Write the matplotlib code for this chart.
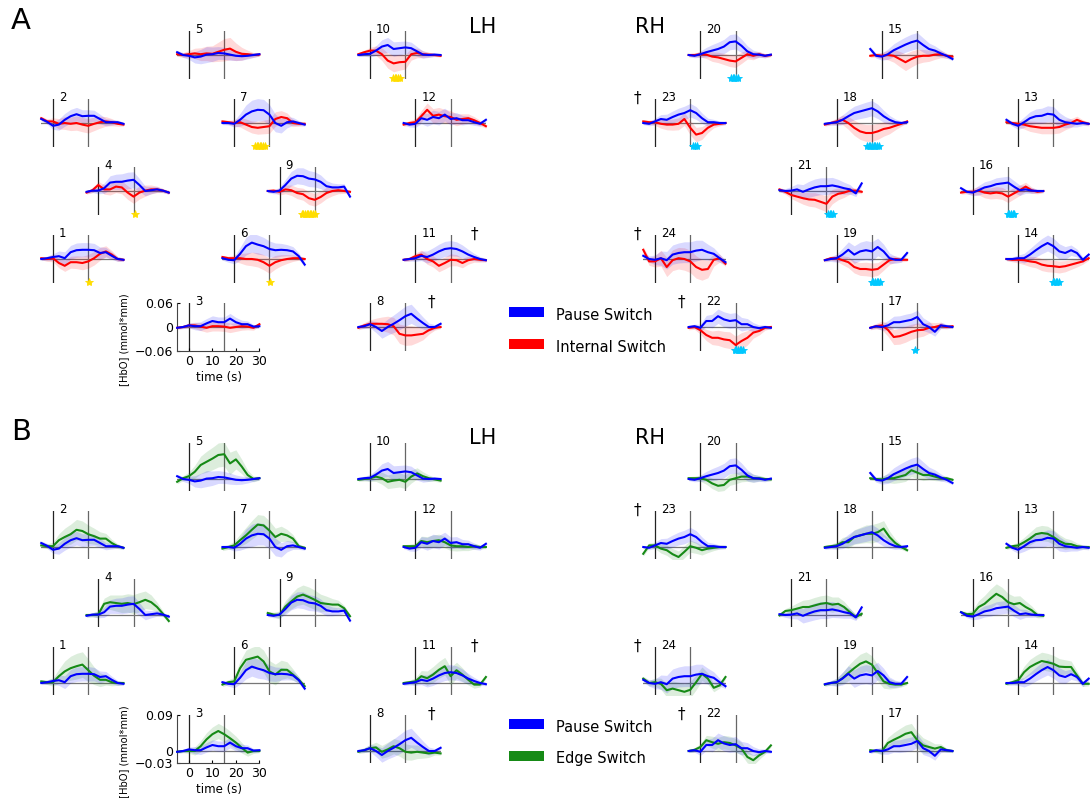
import matplotlib
matplotlib.use('Agg')
import matplotlib.pyplot as plt
from matplotlib.patches import Rectangle
import numpy as np

# sample times (s) and HbO traces in umol*mm (= 1e-3 mmol*mm)
time_s = [-5, -2.5, 0, 2.5, 5, 7.5, 10, 12.5, 15, 17.5, 20, 22.5, 25, 27.5, 30]

pause = {
    5: [7, 0, -2, -6, -4, 1, 2, 5, 4, 1, -2, -3, -2, 0, 2],
    10: [0, 2, 3, 11, 21, 25, 15, 17, 19, 17, 9, 1, 0, 1, 0],
    2: [10, 3, -7, -4, 8, 17, 22, 17, 18, 18, 10, 2, 2, 2, -2],
    7: [0, 0, -2, 8, 21, 29, 33, 32, 21, 0, -7, 2, 4, 0, -4],
    12: [0, -4, -2, 12, 8, 15, 12, 21, 10, 12, 7, 7, 2, -2, 8],
    4: [-2, 1, 1, 7, 21, 23, 23, 26, 28, 15, 0, 2, 4, 1, -4],
    9: [0, -2, 1, 15, 31, 38, 37, 31, 29, 23, 12, 9, 9, 11, -14],
    1: [0, 2, 5, 7, 2, 17, 22, 23, 23, 22, 15, 17, 8, 0, -2],
    6: [2, -2, -3, 13, 32, 41, 36, 32, 25, 22, 23, 22, 19, 7, -14],
    11: [-2, 0, 2, 8, 5, 11, 19, 25, 27, 25, 19, 11, 5, 0, -3],
    3: [-2, 0, 4, 2, 2, 9, 15, 12, 12, 21, 12, 7, 7, 1, 2],
    8: [0, 2, 7, 0, -10, 0, 8, 17, 27, 33, 21, 10, 0, 0, 8],
    20: [0, -2, 2, 7, 11, 15, 21, 32, 34, 23, 9, 2, 1, -2, 1],
    15: [15, -2, -4, 2, 12, 19, 26, 32, 36, 25, 15, 11, 4, -2, -10],
    23: [0, -2, 4, 10, 8, 15, 21, 25, 32, 25, 12, 2, 2, 0, 0],
    18: [-2, 0, 2, 8, 17, 25, 29, 33, 37, 29, 17, 8, 2, 0, 2],
    13: [8, -2, -7, 2, 12, 17, 18, 23, 21, 8, 2, 0, -2, 0, -2],
    21: [2, 0, 1, 4, -2, 4, 9, 12, 12, 14, 11, 7, 4, -6, 19],
    16: [7, -2, -4, 2, 9, 12, 17, 19, 21, 11, 2, 4, 1, 0, 0],
    24: [8, 0, -2, 2, -3, 11, 15, 17, 17, 21, 23, 17, 13, 2, -8],
    19: [-3, 0, 2, 11, 23, 11, 19, 22, 19, 30, 19, 2, -2, -2, 15],
    14: [0, 0, 2, 2, 11, 22, 32, 40, 32, 19, 15, 22, 15, -2, 11],
    22: [0, 2, -2, 15, 15, 27, 19, 15, 17, 7, 7, 0, -3, 0, -2],
    17: [-2, 2, 0, 4, 12, 12, 15, 18, 25, 7, 0, -12, 4, 2, 0],
}

internal = {
    5: [2, 0, 2, 4, 2, 4, 3, 8, 13, 16, 8, 3, 2, 0, 1],
    10: [2, 7, 11, 11, 2, -14, -21, -18, -17, 2, 5, 2, 1, 0, -2],
    2: [12, 4, 4, -2, 0, -2, 0, -4, -7, -2, 2, 4, 2, -2, -4],
    7: [4, 2, 0, 2, -4, -10, -12, -10, -8, 10, 15, 12, 0, -2, -2],
    12: [-4, 0, 2, 17, 33, 18, 21, 17, 15, 8, 10, 12, 7, 0, -8],
    4: [-4, 2, 15, 4, 4, 11, 9, -4, -14, -4, 1, 4, 4, 1, -4],
    9: [0, 1, -2, 4, 2, -5, -8, -18, -22, -15, -5, 0, 2, 0, -2],
    1: [2, 0, 2, -10, -17, -8, -8, -10, -6, 2, 13, 19, 11, 0, -2],
    6: [5, 2, 2, 2, 0, 0, -2, -8, -17, -8, -3, 0, 2, 2, 0],
    11: [-2, 0, 7, 11, 0, -6, -17, -10, -2, -3, -10, -3, 0, -2, -3],
    3: [-2, 0, 4, 4, 1, -2, 2, 2, 1, -2, 0, 2, 1, -2, 7],
    8: [-2, 4, 8, 8, 8, 7, 2, -17, -21, -21, -19, -17, -8, -2, 0],
    20: [0, 0, 2, 1, -4, -6, -10, -14, -16, -7, 2, -2, 2, -2, 0],
    15: [-2, 0, -2, 0, -2, -10, -18, -10, -4, -2, -2, 1, 2, -2, -4],
    23: [4, 2, 2, -2, -4, -4, -2, 10, -12, -29, -25, -12, -4, -2, 0],
    18: [-4, 0, 4, 8, 0, -12, -21, -25, -25, -21, -15, -12, -7, -2, 4],
    13: [2, 0, -2, -4, -8, -10, -12, -12, -12, -10, -4, 0, 8, 2, -2],
    21: [4, -2, -10, -14, -18, -21, -22, -27, -32, -14, -7, -4, 1, 1, -2],
    16: [-4, -2, -2, 1, -4, -6, -4, -6, -14, -6, 2, 11, 2, -2, 0],
    24: [23, -6, -6, 2, -20, -3, 2, 0, -6, -20, -27, -25, -2, 2, -12],
    19: [-3, 2, 2, -3, -8, -20, -25, -25, -27, -25, -14, -3, 0, -2, -2],
    14: [0, -2, -2, -3, -6, -8, -14, -17, -18, -20, -18, -14, -10, -6, 2],
    22: [-2, 0, -8, -20, -27, -27, -31, -33, -45, -35, -27, -14, -10, -2, 0],
    17: [-2, 2, 4, -7, -25, -23, -18, -12, -8, -7, -2, 0, 4, 0, 2],
}

edge = {
    5: [-7, 2, 7, 18, 35, 43, 51, 60, 62, 39, 49, 31, 10, 0, 2],
    10: [-2, 0, 2, 6, 2, -7, -4, -2, -7, 6, 14, 7, 2, -1, -4],
    2: [4, 2, 2, 17, 25, 32, 43, 40, 32, 27, 21, 21, 10, 2, -2],
    7: [-4, 0, 4, 17, 29, 43, 56, 54, 41, 25, 33, 29, 21, 2, -2],
    12: [2, 2, 2, 15, 12, 15, 17, 12, 4, 2, 2, 0, 2, 0, 0],
    4: [0, 0, 2, 28, 32, 30, 28, 30, 27, 32, 38, 32, 20, 3, -15],
    9: [5, 1, 0, 21, 34, 46, 51, 45, 38, 30, 28, 26, 26, 17, -3],
    1: [4, 2, 2, 17, 29, 37, 42, 46, 32, 18, 8, 8, 2, 0, 0],
    6: [-4, 2, 4, 37, 58, 62, 66, 54, 29, 21, 33, 33, 21, 8, -8],
    11: [0, 2, 4, 17, 12, 21, 33, 42, 17, 32, 21, 8, -4, -4, 15],
    3: [-2, 0, 0, 0, 12, 29, 42, 50, 42, 32, 21, 8, -4, 0, 0],
    8: [-2, 2, 7, 9, -2, 4, 12, 7, -2, -4, -2, -4, -6, -4, -6],
    20: [2, 2, 2, -2, -11, -17, -15, -2, 2, 6, 6, 2, 2, 0, -1],
    15: [2, 0, -1, 2, 2, 6, 10, 22, 16, 10, 10, 6, 2, 2, -2],
    23: [-17, 4, 4, -4, -8, -18, -25, -12, 2, -2, -8, -4, -2, 0, 0],
    18: [0, 2, 4, 12, 12, 25, 29, 33, 33, 37, 46, 25, 10, 0, -8],
    13: [-2, 2, 4, 12, 21, 32, 35, 33, 25, 15, 8, 7, 2, 0, 0],
    21: [-1, 10, 12, 16, 20, 20, 24, 28, 30, 26, 28, 20, 7, -5, 3],
    16: [7, 2, 3, 20, 28, 41, 53, 45, 32, 27, 30, 20, 12, 0, -2],
    24: [11, 0, 2, -2, -18, -14, -18, -22, -17, 2, 23, 11, -12, -6, 15],
    19: [-4, 0, 2, 12, 25, 37, 48, 54, 46, 25, 4, -2, -4, -4, 0],
    14: [-2, 2, 7, 27, 40, 48, 55, 52, 48, 41, 40, 40, 19, -2, -2],
    22: [0, 3, 10, 27, 22, 18, 22, 20, 14, 6, -15, -23, -11, -2, 14],
    17: [2, 0, 0, 20, 28, 35, 43, 47, 27, 14, 10, 6, 10, 2, 0],
}

pause_se = {
    5: [5, 6, 9, 14, 18, 20, 18, 16, 15, 14, 12, 10, 8, 6, 4],
    10: [4, 5, 8, 12, 17, 19, 18, 17, 16, 15, 12, 9, 6, 4, 3],
    2: [5, 6, 9, 14, 16, 17, 17, 16, 15, 14, 12, 9, 7, 5, 4],
    7: [4, 5, 8, 16, 24, 28, 28, 27, 25, 22, 18, 14, 10, 6, 4],
    12: [4, 6, 9, 14, 16, 17, 17, 16, 15, 14, 12, 10, 8, 6, 5],
    4: [4, 5, 8, 13, 17, 19, 20, 21, 20, 16, 12, 9, 7, 5, 4],
    9: [4, 5, 8, 14, 18, 20, 21, 20, 19, 17, 14, 11, 9, 7, 5],
    1: [4, 5, 8, 13, 16, 17, 18, 18, 18, 17, 15, 12, 9, 6, 4],
    6: [5, 6, 9, 16, 22, 24, 24, 22, 20, 18, 16, 14, 12, 8, 6],
    11: [4, 5, 8, 12, 15, 17, 18, 19, 19, 18, 16, 13, 9, 6, 4],
    3: [3, 4, 6, 9, 11, 12, 13, 13, 13, 13, 12, 10, 8, 5, 4],
    8: [4, 6, 9, 14, 18, 20, 22, 24, 25, 24, 20, 15, 10, 6, 4],
    20: [4, 5, 8, 12, 15, 17, 18, 19, 19, 17, 14, 10, 7, 5, 4],
    15: [6, 6, 9, 13, 16, 18, 19, 20, 20, 18, 15, 12, 9, 6, 4],
    23: [4, 5, 8, 11, 14, 15, 16, 17, 17, 16, 13, 10, 7, 5, 4],
    18: [4, 5, 8, 12, 15, 17, 18, 19, 19, 18, 15, 11, 8, 5, 4],
    13: [5, 6, 9, 13, 16, 18, 19, 20, 20, 18, 14, 10, 8, 6, 5],
    21: [4, 6, 10, 14, 18, 20, 21, 21, 21, 20, 18, 15, 12, 8, 6],
    16: [4, 5, 8, 12, 14, 15, 16, 16, 16, 15, 13, 10, 7, 5, 4],
    24: [6, 8, 12, 18, 22, 24, 25, 26, 26, 26, 24, 20, 15, 10, 6],
    19: [4, 6, 10, 16, 20, 22, 23, 24, 24, 22, 18, 13, 9, 6, 5],
    14: [4, 5, 8, 12, 15, 17, 19, 20, 20, 19, 16, 13, 10, 7, 5],
    22: [4, 5, 9, 14, 17, 18, 19, 19, 19, 17, 14, 11, 8, 5, 4],
    17: [4, 5, 8, 12, 15, 16, 17, 17, 17, 16, 14, 11, 8, 5, 4],
}

internal_se = {
    5: [5, 6, 9, 13, 16, 18, 20, 24, 28, 28, 22, 16, 10, 6, 4],
    10: [4, 5, 8, 12, 16, 19, 21, 20, 18, 15, 12, 9, 6, 4, 3],
    2: [5, 6, 9, 13, 16, 17, 18, 18, 18, 17, 15, 12, 9, 6, 4],
    7: [4, 5, 8, 12, 14, 15, 16, 17, 18, 18, 16, 13, 9, 6, 4],
    12: [4, 6, 9, 14, 17, 18, 18, 17, 16, 15, 13, 11, 9, 7, 5],
    4: [4, 6, 9, 12, 14, 15, 16, 17, 17, 16, 14, 11, 8, 5, 4],
    9: [4, 5, 8, 11, 13, 14, 15, 16, 16, 15, 14, 12, 9, 6, 4],
    1: [4, 6, 9, 12, 14, 15, 16, 17, 17, 17, 16, 14, 10, 6, 4],
    6: [4, 5, 8, 12, 15, 17, 18, 19, 19, 17, 14, 11, 8, 5, 4],
    11: [4, 5, 8, 11, 13, 14, 15, 15, 15, 14, 12, 10, 8, 6, 4],
    3: [3, 4, 6, 8, 10, 11, 12, 12, 12, 12, 11, 10, 8, 6, 4],
    8: [5, 7, 10, 14, 17, 20, 22, 24, 25, 24, 20, 15, 10, 6, 4],
    20: [4, 5, 7, 10, 12, 13, 14, 15, 15, 14, 12, 10, 7, 5, 4],
    15: [4, 5, 8, 12, 16, 19, 21, 20, 18, 16, 14, 12, 9, 6, 4],
    23: [4, 5, 8, 11, 13, 14, 15, 16, 18, 18, 16, 12, 8, 5, 4],
    18: [4, 5, 8, 12, 16, 19, 20, 21, 21, 20, 18, 15, 10, 6, 4],
    13: [4, 5, 8, 11, 13, 14, 15, 15, 15, 15, 13, 11, 9, 6, 4],
    21: [5, 6, 9, 12, 15, 17, 18, 19, 20, 18, 15, 12, 9, 6, 5],
    16: [4, 5, 8, 11, 13, 14, 15, 15, 15, 14, 13, 11, 8, 5, 4],
    24: [8, 10, 14, 20, 24, 26, 27, 28, 28, 28, 26, 22, 16, 10, 6],
    19: [4, 5, 8, 11, 14, 15, 16, 17, 17, 16, 14, 11, 8, 5, 4],
    14: [4, 5, 8, 11, 13, 14, 15, 15, 15, 15, 14, 12, 10, 7, 5],
    22: [5, 6, 10, 14, 17, 19, 20, 21, 22, 21, 18, 14, 10, 6, 4],
    17: [5, 7, 11, 16, 19, 20, 20, 19, 18, 16, 14, 11, 8, 5, 4],
}

edge_se = {
    5: [5, 6, 10, 16, 22, 26, 28, 30, 30, 28, 24, 18, 12, 7, 5],
    10: [4, 5, 8, 12, 15, 17, 18, 18, 17, 16, 14, 11, 8, 5, 4],
    2: [5, 6, 10, 16, 22, 25, 26, 25, 23, 20, 17, 13, 9, 6, 4],
    7: [5, 6, 10, 15, 20, 23, 25, 25, 24, 22, 19, 15, 10, 6, 4],
    12: [4, 5, 8, 12, 14, 15, 15, 14, 13, 12, 11, 9, 7, 5, 4],
    4: [4, 5, 9, 14, 18, 20, 22, 23, 24, 24, 22, 18, 12, 7, 5],
    9: [4, 6, 10, 15, 19, 22, 24, 25, 24, 22, 19, 15, 11, 7, 5],
    1: [4, 6, 10, 18, 26, 30, 32, 32, 28, 22, 17, 13, 9, 6, 4],
    6: [5, 6, 10, 18, 24, 27, 28, 28, 27, 26, 24, 20, 14, 8, 5],
    11: [4, 5, 9, 14, 18, 20, 21, 22, 22, 20, 17, 13, 9, 6, 4],
    3: [3, 4, 6, 10, 14, 17, 18, 19, 19, 18, 16, 13, 9, 6, 4],
    8: [4, 6, 9, 13, 16, 18, 19, 20, 20, 19, 17, 14, 10, 6, 4],
    20: [4, 5, 8, 11, 13, 14, 14, 14, 14, 13, 12, 10, 7, 5, 4],
    15: [4, 5, 8, 11, 13, 15, 16, 16, 15, 14, 12, 10, 7, 5, 4],
    23: [6, 6, 8, 11, 13, 14, 15, 15, 15, 14, 12, 10, 7, 5, 4],
    18: [4, 5, 8, 12, 15, 18, 20, 22, 23, 23, 20, 15, 10, 6, 4],
    13: [4, 5, 8, 12, 16, 18, 19, 19, 18, 16, 14, 11, 8, 5, 4],
    21: [4, 6, 10, 14, 17, 19, 20, 20, 20, 19, 17, 14, 10, 6, 5],
    16: [4, 6, 10, 16, 21, 24, 25, 24, 22, 20, 18, 15, 11, 7, 5],
    24: [6, 7, 10, 14, 17, 19, 20, 20, 20, 19, 17, 14, 10, 7, 5],
    19: [4, 5, 9, 14, 19, 22, 24, 24, 22, 20, 17, 13, 9, 6, 4],
    14: [4, 6, 10, 15, 19, 21, 22, 22, 21, 20, 18, 15, 11, 7, 5],
    22: [4, 5, 8, 12, 15, 16, 17, 17, 17, 16, 15, 13, 10, 6, 4],
    17: [4, 5, 9, 14, 18, 21, 22, 22, 21, 19, 16, 12, 8, 5, 4],
}

# significant windows (s) pause vs internal switch
sig_windows = {
    10: (9.8, 13.2), 7: (8.8, 13.2), 4: (15.5, 15.5), 9: (9.4, 15.2),
    1: (15.2, 15.2), 6: (15.3, 15.3),
    20: (13.0, 16.3), 23: (16.3, 17.8), 18: (13.0, 17.9), 21: (15.7, 17.8),
    16: (14.9, 17.9), 19: (14.9, 19.0), 14: (14.6, 17.4), 22: (14.6, 18.2),
    17: (14.1, 14.1),
}
dagger_channels = [11, 8, 23, 24, 22]

left_hemi = [5, 10, 2, 7, 12, 4, 9, 1, 6, 11, 3, 8]

# layout: (column, row) on the optode grid
grid_pos = {
    5: (3, 0), 10: (7, 0), 2: (0, 1), 7: (4, 1), 12: (8, 1), 4: (1, 2),
    9: (5, 2), 1: (0, 3), 6: (4, 3), 11: (8, 3), 3: (3, 4), 8: (7, 4),
    20: (1, 0), 15: (5, 0), 23: (0, 1), 18: (4, 1), 13: (8, 1), 21: (3, 2),
    16: (7, 2), 24: (0, 3), 19: (4, 3), 14: (8, 3), 22: (1, 4), 17: (5, 4),
}
dagger_x = {11: 25, 8: 26, 23: -7.5, 24: -7.5, 22: -8}

W, H = 1090, 798
PX_S = 2.35
PANEL_H = 48
BLUE = '#0000ff'
RED = '#ff0000'
GREEN = '#168a16'

fig = plt.figure(figsize=(W / 100, H / 100), dpi=100)
t = np.array(time_s)


def panel_axes(ch, y_off):
    col, row = grid_pos[ch]
    if ch in left_hemi:
        x0 = 53 + 45.3 * col
    else:
        x0 = 655 + 45.4 * col
    top = 31 + 68 * row + y_off
    left = x0 - 5 * PX_S
    ax = fig.add_axes([left / W, 1 - (top + PANEL_H) / H, 35 * PX_S / W, PANEL_H / H])
    return ax


def draw_section(other, other_se, other_color, ylim, y_off, sig_color_l, sig_color_r, ticks):
    for ch in grid_pos:
        ax = panel_axes(ch, y_off)
        ax.set_xlim(-5, 30)
        ax.set_ylim(*ylim)
        ax.axvline(0, color='#222222', lw=0.9, zorder=1)
        ax.axvline(15, color='#666666', lw=0.9, zorder=1)
        ax.axhline(0, color='#777777', lw=0.9, zorder=1)

        m = np.array(other[ch]) / 1000
        s = np.array(other_se[ch]) / 1000
        ax.fill_between(t, m - s, m + s, color=other_color, alpha=0.15, lw=0, zorder=2)
        mb = np.array(pause[ch]) / 1000
        sb = np.array(pause_se[ch]) / 1000
        ax.fill_between(t, mb - sb, mb + sb, color=BLUE, alpha=0.15, lw=0, zorder=2)
        ax.plot(t, m, color=other_color, lw=1.5, zorder=3, clip_on=False)
        ax.plot(t, mb, color=BLUE, lw=1.5, zorder=4, clip_on=False)

        ax.text(2.5, 1.04, str(ch), transform=ax.get_xaxis_transform(),
                ha='left', va='center', fontsize=8.5)
        if ch in dagger_channels:
            ax.text(dagger_x[ch], 1.02, '\u2020', transform=ax.get_xaxis_transform(),
                    ha='center', va='center', fontsize=11)

        if sig_color_l is not None and ch in sig_windows:
            a, b = sig_windows[ch]
            ts = np.arange(a, b + 0.01, 0.7)
            c = sig_color_l if ch in left_hemi else sig_color_r
            ax.plot(ts, np.full(len(ts), ylim[0] + 0.002), '*', color=c, ms=6,
                    mew=0.6, clip_on=False, zorder=5)

        for sp in ax.spines.values():
            sp.set_visible(False)
        if ch == 3:
            for side in ('left', 'bottom'):
                ax.spines[side].set_visible(True)
                ax.spines[side].set_color('#444444')
                ax.spines[side].set_linewidth(0.8)
            ax.set_xticks([0, 10, 20, 30])
            ax.set_yticks(ticks[0])
            ax.set_yticklabels(ticks[1])
            ax.tick_params(labelsize=9, length=2, direction='in', pad=3)
            ax.set_xlabel('time (s)', fontsize=8.5)
            ax.set_ylabel('[HbO] (mmol*mm)', fontsize=7.2)
            ax.xaxis.set_label_coords(0.51, -0.42)
            ax.yaxis.set_label_coords(-0.585, 0.24)
        else:
            ax.set_xticks([])
            ax.set_yticks([])
        ax.patch.set_alpha(0)


draw_section(internal, internal_se, RED, (-0.06, 0.06), 0, '#ffdd00', '#00c8ff',
             ([-0.06, 0, 0.06], ['\u22120.06', '0', '0.06']))
draw_section(edge, edge_se, GREEN, (-0.03, 0.09), 412, None, None,
             ([-0.03, 0, 0.09], ['\u22120.03', '0', '0.09']))

# headers
for lab, yy in (('A', 21), ('B', 432)):
    fig.text(21 / W, 1 - yy / H, lab, fontsize=21, ha='center', va='center')
    fig.text(483 / W, 1 - (yy + 6) / H, 'LH', fontsize=15, ha='center', va='center')
    fig.text(650 / W, 1 - (yy + 6) / H, 'RH', fontsize=15, ha='center', va='center')

# legends
legend_items = [
    (312, BLUE, 'Pause Switch'), (344, RED, 'Internal Switch'),
    (724, BLUE, 'Pause Switch'), (756, GREEN, 'Edge Switch'),
]
for yy, col, txt in legend_items:
    fig.patches.append(Rectangle((509 / W, 1 - (yy + 5) / H), 35 / W, 10 / H,
                                 transform=fig.transFigure, color=col, lw=0))
    fig.text(556 / W, 1 - (yy + 3) / H, txt, fontsize=10.5, ha='left', va='center')

fig.savefig('out.png', dpi=100)
